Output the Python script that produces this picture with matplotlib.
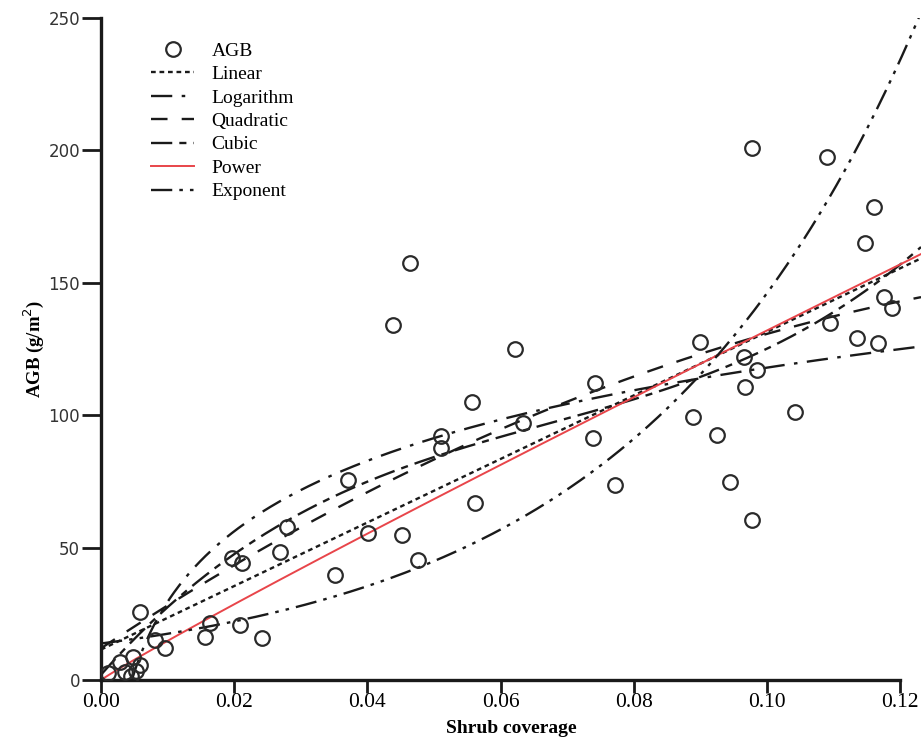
import numpy as np
import matplotlib
matplotlib.use("Agg")
import matplotlib.pyplot as plt

# ---- observed data (Shrub coverage, AGB) ----
cover = [0.00586, 0.0081, 0.0096, 0.00285, 0.00586, 0.00485, 0.0011, 0.0036, 0.0045, 0.0052,
         0.0164, 0.0156, 0.0209, 0.0241, 0.0196, 0.0211, 0.0269, 0.0279, 0.0351, 0.0371,
         0.0401, 0.0452, 0.0476, 0.0464, 0.0439, 0.0622, 0.0557, 0.0510, 0.0510, 0.0634,
         0.0562, 0.0899, 0.0742, 0.0965, 0.0985, 0.0967, 0.0889, 0.0925, 0.0739, 0.0772,
         0.0944, 0.0977, 0.0977, 0.1090, 0.1160, 0.1147, 0.1175, 0.1187, 0.1095, 0.1135,
         0.1167, 0.1042]
agb = [25.8, 15.1, 12.0, 6.9, 5.7, 8.8, 2.5, 3.1, 1.5, 3.5,
       21.4, 16.4, 20.8, 15.7, 46.0, 44.1, 48.5, 57.9, 39.7, 75.5,
       55.4, 54.8, 45.3, 157.4, 134.1, 124.9, 105.1, 92.1, 87.5, 96.9,
       67.0, 127.8, 112.1, 122.1, 117.1, 110.8, 99.4, 92.5, 91.3, 73.6,
       74.9, 60.4, 200.8, 197.6, 178.7, 164.9, 144.8, 140.4, 135.0, 129.0,
       127.1, 101.3]

# ---- fitted model coefficients ----
linear_coef = (11.5, 1200.0)                    # a + b x
log_coef = (206.4, 38.4)                         # a + b ln x
quad_coef = (12.0, 1664.7, -4774.0)              # a + b x + c x^2
cubic_coef = (2.0, 2859.8, -32340.0, 160570.0)   # a + b x + c x^2 + d x^3
power_coef = (157.0 / 0.12 ** 0.95, 0.95)        # a x^b
exp_coef = (13.8, 23.6)                          # a exp(b x)

legend_labels = ["AGB", "Linear", "Logarithm", "Quadratic", "Cubic", "Power", "Exponent"]
x_ticks = [0.00, 0.02, 0.04, 0.06, 0.08, 0.10, 0.12]
y_ticks = [0, 50, 100, 150, 200, 250]

plt.rcParams['font.family'] = ['DejaVu Sans']
fig = plt.figure(figsize=(9.21, 7.37), dpi=100)
ax = fig.add_axes([0.1097, 0.0773, 0.8903, 0.8983])

XMAX = 0.1231
xs = np.linspace(0.0, XMAX, 600)
xl = np.linspace(np.exp(-log_coef[0] / log_coef[1]), XMAX, 600)

k = '#1a1a1a'
lw = 1.7
ax.plot(cover, agb, linestyle='none', marker='o', markersize=10.5, markerfacecolor='none',
        markeredgecolor='#2a2a2a', markeredgewidth=1.6, label=legend_labels[0], zorder=5)
ax.plot(xs, linear_coef[0] + linear_coef[1] * xs, color=k, lw=lw, ls=(0, (2, 1.6)),
        label=legend_labels[1])
ax.plot(xl, log_coef[0] + log_coef[1] * np.log(xl), color=k, lw=lw, ls=(0, (9, 4, 1.5, 4)),
        label=legend_labels[2])
ax.plot(xs, quad_coef[0] + quad_coef[1] * xs + quad_coef[2] * xs ** 2, color=k, lw=lw,
        ls=(0, (7, 6)), label=legend_labels[3])
ax.plot(xs, cubic_coef[0] + cubic_coef[1] * xs + cubic_coef[2] * xs ** 2 + cubic_coef[3] * xs ** 3,
        color=k, lw=lw, ls=(0, (9, 3, 3, 3)), label=legend_labels[4])
ax.plot(xs, power_coef[0] * xs ** power_coef[1], color='#e8454a', lw=1.4, label=legend_labels[5])
ax.plot(xs, exp_coef[0] * np.exp(exp_coef[1] * xs), color=k, lw=lw,
        ls=(0, (9, 3, 1.5, 3, 1.5, 3)), label=legend_labels[6])

ax.set_xlim(0, XMAX)
ax.set_ylim(0, 250)
for s in ['top', 'right']:
    ax.spines[s].set_visible(False)
for s in ['left', 'bottom']:
    ax.spines[s].set_linewidth(2.4)
    ax.spines[s].set_color('#1a1a1a')
ax.spines['bottom'].set_bounds(0, 0.12)
ax.set_xticks(x_ticks)
ax.set_xticklabels([f"{v:.2f}" for v in x_ticks], family='Liberation Serif', fontsize=15.5)
ax.set_yticks(y_ticks)
ax.set_yticklabels([str(v) for v in y_ticks], family='DejaVu Sans', fontsize=12, color='#333333')
ax.tick_params(axis='x', direction='out', length=9, width=2, color='#1a1a1a', pad=0)
ax.tick_params(axis='y', direction='out', length=14, width=2, color='#1a1a1a', pad=1)

ax.set_xlabel("Shrub coverage", family='Liberation Serif', fontweight='bold', fontsize=14,
              labelpad=6)
ax.set_ylabel("AGB (g/m$^{2}$)", family='Liberation Serif', fontweight='bold', fontsize=13.5,
              labelpad=2)

leg = ax.legend(loc='upper left', bbox_to_anchor=(0.04, 0.99), frameon=False,
                prop={'family': 'Liberation Serif', 'size': 14}, handlelength=2.2,
                labelspacing=0.3, handletextpad=0.9)

fig.savefig("out.png", dpi=100)
